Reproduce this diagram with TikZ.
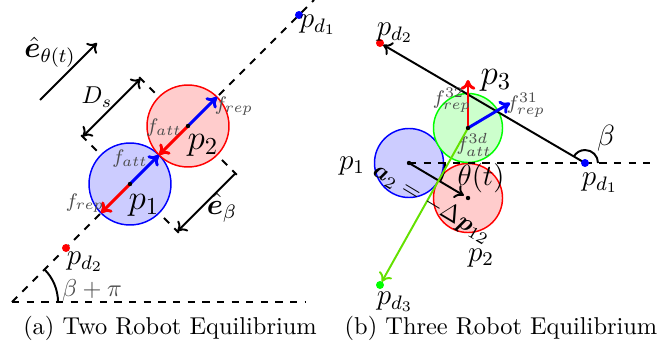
\documentclass[tikz,border=0pt]{standalone}
\usepackage{amsmath,bm}
\usetikzlibrary{arrows.meta,calc}
\definecolor{lgreen}{RGB}{100,225,0}
\definecolor{txtgray}{gray}{0.3}
\begin{document}
\begin{tikzpicture}[x=0.41pt,y=-0.41pt,
  robA/.style={circle, inner sep=0pt, minimum size=33.6pt, semithick},
  robB/.style={circle, inner sep=0pt, minimum size=28.3pt, semithick},
  guide/.style={thick, dashed},
  frc/.style={very thick, -{To[length=4pt,width=6pt]}},
  blk/.style={thick, -{To[length=3.5pt,width=6pt]}},
  lbl/.style={inner sep=0pt},
  flbl/.style={inner sep=0pt, font=\footnotesize, text=txtgray},
]
\useasboundingbox (0,0) rectangle (658,353);

% ---------------- panel (a) ----------------
\coordinate (O) at (12,302);
\coordinate (Aend) at (314,0);
\coordinate (Hend) at (305,302);
\coordinate (P1) at (130,184);
\coordinate (P2) at (188,126);
\coordinate (D1) at (299,15);
\coordinate (D2) at (66,248);

\draw[guide] (O) -- (Aend);
\draw[guide] (O) -- (Hend);
\coordinate (L1a) at ($(P1)+(-48.8,-48.8)$);
\coordinate (L1b) at ($(P1)+(48.8,48.8)$);
\coordinate (L2a) at ($(P2)+(-48.8,-48.8)$);
\coordinate (L2b) at ($(P2)+(48.8,48.8)$);
\draw[guide] (L1a) -- (L1b);
\draw[guide] (L2a) -- (L2b);

\node[robA, draw=blue, fill=blue!20] (c1) at (P1) {};
\node[robA, draw=red, fill=red!20] (c2) at (P2) {};

\coordinate (T) at ($(P1)!0.5!(P2)$);
\coordinate (F1r) at ($(P1)+(-29,29)$);
\coordinate (F2b) at ($(P2)+(29,-29)$);
\draw[frc, blue] (P1) -- (T);
\draw[frc, red] (P1) -- (F1r);
\draw[frc, blue] (P2) -- (F2b);
\draw[frc, red] (P2) -- (T);
\fill (P1) circle (2.2);
\fill (P2) circle (2.2);

\coordinate (Ds1) at ($(P1)+(-47.4,-47.4)$);
\coordinate (Ds2) at ($(P2)+(-47.4,-47.4)$);
\draw[blk, {To[length=3.5pt,width=6pt]}-{To[length=3.5pt,width=6pt]}] (Ds1) -- (Ds2);
\coordinate (Eb1) at ($(P2)+(47.4,47.4)$);
\coordinate (Eb2) at ($(P1)+(47.4,47.4)$);
\draw[blk] (Eb1) -- (Eb2);
\coordinate (Et1) at (40,100);
\coordinate (Et2) at (97,43);
\draw[blk] (Et1) -- (Et2);

\draw[thick] ($(O)+(46,0)$) arc[start angle=0, end angle=-45, radius=46];

\fill[blue] (D1) circle (4);
\fill[red] (D2) circle (4);

\node[lbl, font=\large] (lD1) at (318,25) {$p_{d_1}$};
\node[lbl, font=\large] (lD2) at (85,262) {$p_{d_2}$};
\node[lbl, font=\Large] (lP1) at (144,205) {$p_1$};
\node[lbl, font=\Large] (lP2) at (203,145) {$p_2$};
\node[flbl] (lf1a) at (130,159) {$f_{att}$};
\node[flbl] (lf1r) at (85,203) {$f_{rep}$};
\node[flbl] (lf2a) at (164,128) {$f_{att}$};
\node[flbl] (lf2r) at (234,106) {$f_{rep}$};
\node[lbl] (lDs) at (97,97) {$D_s$};
\node[lbl, font=\large] (lEb) at (222,208) {$\hat{\bm{e}}_{\beta}$};
\node[lbl, font=\large] (lEt) at (50,52) {$\hat{\bm{e}}_{\theta(t)}$};
\node[lbl, text=txtgray] (lBp) at (92,290) {$\beta+\pi$};
\node (capA) at (170,328) {(a) Two Robot Equilibrium};

% ---------------- panel (b) ----------------
\coordinate (B1) at (409,163);
\coordinate (B2) at (468,198);
\coordinate (B3) at (468,128);
\coordinate (Q1) at (585,163);
\coordinate (Q2) at (380,43);
\coordinate (Q3) at (380,285);
\coordinate (Hb) at (657,163);

\node[robB, draw=blue, fill=blue!20] (c1b) at (B1) {};
\node[robB, draw=red, fill=red!20] (c2b) at (B2) {};
\node[robB, draw=green, fill=green!20] (c3b) at (B3) {};

\draw[guide] (B1) -- (Hb);
\draw[blk, shorten >=1.5pt] (Q1) -- (Q2);
\draw[thick] ($(Q1)+(13,0)$) arc[start angle=0, end angle=-150, radius=13];
\draw[blk, shorten >=2pt] (B1) -- (B2);
\draw[thick] ($(B1)+(36,0)$) arc[start angle=0, end angle=30.7, radius=36];
\draw[thick, lgreen, -{To[length=3.5pt,width=6pt]}, shorten >=1.5pt] (B3) -- (Q3);
\coordinate (F32) at (468,80);
\coordinate (F31) at (510,103);
\draw[frc, red] (B3) -- (F32);
\draw[frc, blue] (B3) -- (F31);
\fill (B1) circle (2.2);
\fill (B2) circle (2.2);
\fill (B3) circle (2.2);

\fill[blue] (Q1) circle (4);
\fill[red] (Q2) circle (4);
\fill[green] (Q3) circle (4);

\node[lbl, font=\large] (lQ1) at (600,183) {$p_{d_1}$};
\node[lbl, font=\large] (lQ2) at (395,33) {$p_{d_2}$};
\node[lbl, font=\large] (lQ3) at (395,302) {$p_{d_3}$};
\node[lbl, font=\large] (lB1) at (352,166) {$p_1$};
\node[lbl, font=\large] (lB2) at (481,258) {$p_2$};
\node[lbl, font=\Large] (lB3) at (496,80) {$p_3$};
\node[flbl] (lf32) at (452,100) {$f^{32}_{rep}$};
\node[flbl] (lf31) at (526,105) {$f^{31}_{rep}$};
\node[flbl] (lf3d) at (474,145) {$f^{3d}_{att}$};
\node[lbl, font=\large] (lbeta) at (606,138) {$\beta$};
\node[lbl, font=\large] (lth) at (481,178) {$\theta(t)$};
\node[lbl, rotate=-31] (la2) at (432,204) {$\bm{a}_2 = -\Delta \bm{p}_{12}$};
\node (capB) at (501,328) {(b) Three Robot Equilibrium};
\end{tikzpicture}
\end{document}
